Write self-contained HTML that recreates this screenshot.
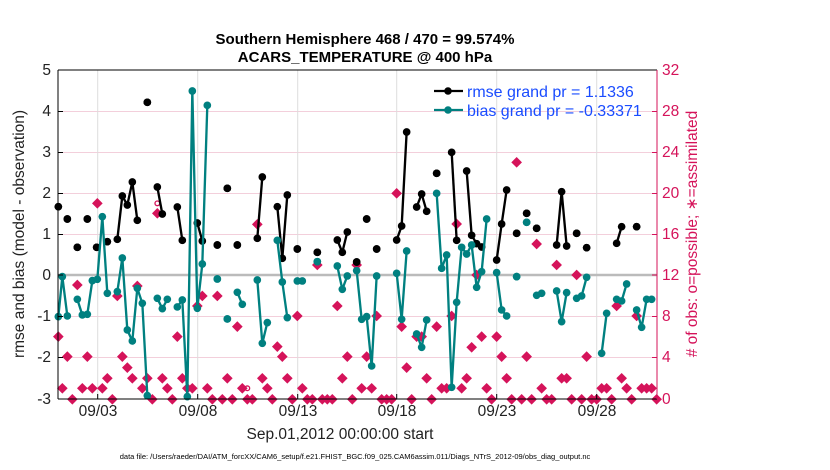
<!DOCTYPE html>
<html><head><meta charset="utf-8"><style>
html,body{margin:0;padding:0;background:#fff;}
svg{display:block;font-family:"Liberation Sans",sans-serif;}
</style></head><body>
<svg width="830" height="470" viewBox="0 0 830 470" xmlns="http://www.w3.org/2000/svg">
<defs>
<marker id="mk" markerUnits="userSpaceOnUse" markerWidth="30" markerHeight="30" refX="15" refY="15" viewBox="0 0 30 30"><circle cx="15" cy="15" r="11.5" fill="#000"/></marker>
<marker id="mt" markerUnits="userSpaceOnUse" markerWidth="30" markerHeight="30" refX="15" refY="15" viewBox="0 0 30 30"><circle cx="15" cy="15" r="11.5" fill="#008080"/></marker>
<marker id="mp" markerUnits="userSpaceOnUse" markerWidth="36" markerHeight="36" refX="18" refY="18" viewBox="0 0 36 36"><path d="M18,2 L34,18 L18,34 L2,18Z" fill="#d5135a"/></marker>
</defs>
<rect width="830" height="470" fill="#fff"/>
<text x="365" y="44" font-size="15" font-weight="bold" text-anchor="middle">Southern Hemisphere 468 / 470 = 99.574%</text>
<text x="365" y="62" font-size="15" font-weight="bold" text-anchor="middle">ACARS_TEMPERATURE @ 400 hPa</text>
<g stroke="#f3cfdb" stroke-width="1">
<line x1="58" y1="111.5" x2="657" y2="111.5"/><line x1="58" y1="152.5" x2="657" y2="152.5"/>
<line x1="58" y1="193.5" x2="657" y2="193.5"/><line x1="58" y1="234.5" x2="657" y2="234.5"/>
<line x1="58" y1="316.5" x2="657" y2="316.5"/><line x1="58" y1="357.5" x2="657" y2="357.5"/>
</g>
<g stroke="#ddd" stroke-width="1">
<line x1="97.7" y1="70" x2="97.7" y2="399"/><line x1="197.7" y1="70" x2="197.7" y2="399"/>
<line x1="297.7" y1="70" x2="297.7" y2="399"/><line x1="396.7" y1="70" x2="396.7" y2="399"/>
<line x1="496.7" y1="70" x2="496.7" y2="399"/><line x1="596.7" y1="70" x2="596.7" y2="399"/>
</g>
<line x1="58" y1="275" x2="657" y2="275" stroke="#bbb" stroke-width="2.5"/>
<g transform="translate(50,60) scale(0.3333)" fill="none">
<g stroke="none" marker-start="url(#mp)" marker-mid="url(#mp)" marker-end="url(#mp)">
<polyline points="25,830 37,985 67,1018 52,890 97,985 112,890 127,985 82,675 142,430 157,985 172,955 187,1018 202,708 217,890 232,923 247,955 262,678 277,985 292,955 307,1018 322,460 337,955 352,985 367,1018 382,830 397,955 412,985 427,985 442,738 457,708 472,985 487,1018 502,708 517,1018 532,955 547,1018 562,800 577,985 592,1018 607,1018 622,493 637,955 652,985 667,1018 682,860 697,890 712,955 727,1018 742,768 757,985 772,1018 787,1018 802,615 817,1018 832,1018 847,1018 862,738 877,955 892,890 907,1018"/>
</g>
<circle cx="322" cy="430" r="7" stroke="#d5135a" stroke-width="4"/>
<circle cx="592" cy="985" r="7" stroke="#d5135a" stroke-width="4"/>
<g stroke="#000" stroke-width="7" marker-start="url(#mk)" marker-mid="url(#mk)" marker-end="url(#mk)">
<polyline points="25,440 25,440"/><polyline points="52,477 52,477"/><polyline points="82,562 82,562"/><polyline points="112,477 112,477"/><polyline points="140,562 140,562"/><polyline points="172,545 172,545"/>
<polyline points="202,538 217,408 232,435 247,366 262,481"/>
<polyline points="292,127 292,127"/>
<polyline points="322,381 337,462"/><polyline points="382,441 397,541"/><polyline points="442,489 457,543"/>
<polyline points="502,555 502,555"/><polyline points="532,385 532,385"/><polyline points="562,555 562,555"/>
<polyline points="622,535 637,351"/><polyline points="682,440 697,595 712,405"/>
<polyline points="742,567 742,567"/><polyline points="802,577 802,577"/>
<polyline points="862,540 877,577 892,516"/>
</g>
<g stroke="#008080" stroke-width="7" marker-start="url(#mt)" marker-mid="url(#mt)" marker-end="url(#mt)">
<polyline points="25,770 37,650 52,768"/>
<polyline points="82,718 97,765 112,763 127,662 142,658 157,470 172,700"/>
<polyline points="202,695 217,594 232,810 247,843 262,685 277,730 292,1007"/>
<polyline points="322,715 337,746 352,718"/>
<polyline points="382,741 397,720 412,1010 427,93 442,745 457,612 472,136"/>
<polyline points="502,657 502,657"/><polyline points="532,777 532,777"/>
<polyline points="562,697 577,733"/>
<polyline points="622,660 637,850 652,788"/>
<polyline points="682,541 697,666 712,773"/>
<polyline points="742,663 757,663"/><polyline points="802,605 802,605"/>
<polyline points="862,618 877,688 892,648"/>
</g>
</g>
<g transform="translate(350,60) scale(0.3333)" fill="none">
<g stroke="none" marker-start="url(#mp)" marker-mid="url(#mp)" marker-end="url(#mp)">
<polyline points="20,615 35,985 50,890 65,985 80,768 95,1018 110,1018 125,1018 140,400 155,800 170,923 185,1018 200,830 215,830 230,955 245,1018 260,800 275,985 290,985 305,768 320,492 335,985 350,955 365,862 380,645 395,830 410,985 425,1018 440,830 455,890 470,955 485,1018 500,307 515,1018 530,890 545,1018 560,552 575,985 590,1018 605,1018 620,615 635,955 650,955 665,1018 680,645 695,1018 710,890 725,1018 740,1018 755,985 770,985 785,1018 800,738 815,955 830,985 845,1018 860,768 875,985 890,985 905,985 920,1018"/>
</g>
<g stroke="#000" stroke-width="7" marker-start="url(#mk)" marker-mid="url(#mk)" marker-end="url(#mk)">
<polyline points="20,606 20,606"/><polyline points="50,477 50,477"/><polyline points="80,567 80,567"/>
<polyline points="140,540 155,498 170,216"/>
<polyline points="200,441 215,402 230,454"/>
<polyline points="260,340 260,340"/>
<polyline points="305,277 320,541"/>
<polyline points="350,333 365,526 380,551 395,561"/>
<polyline points="440,600 455,492 470,390"/>
<polyline points="500,520 500,520"/><polyline points="530,460 530,460"/><polyline points="560,505 560,505"/>
<polyline points="620,555 635,395 650,558"/>
<polyline points="680,520 680,520"/><polyline points="710,563 710,563"/>
<polyline points="800,550 815,500"/><polyline points="860,500 860,500"/>
</g>
<g stroke="#008080" stroke-width="7" marker-start="url(#mt)" marker-mid="url(#mt)" marker-end="url(#mt)">
<polyline points="20,632 35,778 50,770 65,918 80,648"/>
<polyline points="140,640 155,778 170,573"/>
<polyline points="200,822 215,862 230,780"/>
<polyline points="260,400 275,625 290,585 305,982 320,727 335,562 350,582 365,555 380,682 395,635 410,477"/>
<polyline points="440,638 455,750 470,768"/>
<polyline points="500,650 500,650"/><polyline points="530,487 530,487"/>
<polyline points="560,706 575,700"/>
<polyline points="620,693 635,785 650,698"/>
<polyline points="680,715 695,708 710,652"/>
<polyline points="755,880 770,760"/>
<polyline points="800,718 815,723 830,672"/>
<polyline points="860,750 875,802 890,718 905,718"/>
</g>
</g>
<line x1="58" y1="70" x2="657" y2="70" stroke="#000" stroke-width="1"/>
<line x1="58" y1="399" x2="657" y2="399" stroke="#000" stroke-width="1"/>
<line x1="58" y1="70" x2="58" y2="399" stroke="#000" stroke-width="1"/>
<line x1="657" y1="70" x2="657" y2="399" stroke="#d5135a" stroke-width="1"/>
<g stroke="#000" stroke-width="1">
<line x1="58" y1="111.5" x2="63" y2="111.5"/><line x1="58" y1="152.5" x2="63" y2="152.5"/><line x1="58" y1="193.5" x2="63" y2="193.5"/><line x1="58" y1="234.5" x2="63" y2="234.5"/><line x1="58" y1="275" x2="63" y2="275"/><line x1="58" y1="316.5" x2="63" y2="316.5"/><line x1="58" y1="357.5" x2="63" y2="357.5"/>
<line x1="97.7" y1="399" x2="97.7" y2="394"/><line x1="197.7" y1="399" x2="197.7" y2="394"/><line x1="297.7" y1="399" x2="297.7" y2="394"/><line x1="396.7" y1="399" x2="396.7" y2="394"/><line x1="496.7" y1="399" x2="496.7" y2="394"/><line x1="596.7" y1="399" x2="596.7" y2="394"/>
</g>
<g stroke="#d5135a" stroke-width="1">
<line x1="652" y1="111.5" x2="657" y2="111.5"/><line x1="652" y1="152.5" x2="657" y2="152.5"/><line x1="652" y1="193.5" x2="657" y2="193.5"/><line x1="652" y1="234.5" x2="657" y2="234.5"/><line x1="652" y1="275" x2="657" y2="275"/><line x1="652" y1="316.5" x2="657" y2="316.5"/><line x1="652" y1="357.5" x2="657" y2="357.5"/>
</g>
<g font-size="15.5" text-anchor="end" fill="#222">
<text x="51" y="75">5</text><text x="51" y="116">4</text><text x="51" y="157">3</text><text x="51" y="198">2</text><text x="51" y="239">1</text><text x="51" y="280">0</text><text x="51" y="321">-1</text><text x="51" y="362">-2</text><text x="51" y="404">-3</text>
</g>
<g font-size="15.5" fill="#d5135a">
<text x="662" y="75">32</text><text x="662" y="116">28</text><text x="662" y="157">24</text><text x="662" y="198">20</text><text x="662" y="239">16</text><text x="662" y="280">12</text><text x="662" y="321">8</text><text x="662" y="362">4</text><text x="662" y="404">0</text>
</g>
<g font-size="15.5" text-anchor="middle" fill="#222">
<text x="98" y="416">09/03</text><text x="198" y="416">09/08</text><text x="298" y="416">09/13</text><text x="397" y="416">09/18</text><text x="497" y="416">09/23</text><text x="597" y="416">09/28</text>
</g>
<text x="340" y="439" font-size="15.5" text-anchor="middle" fill="#222">Sep.01,2012 00:00:00 start</text>
<text x="355" y="459" font-size="7.5" text-anchor="middle" fill="#000">data file: /Users/raeder/DAI/ATM_forcXX/CAM6_setup/f.e21.FHIST_BGC.f09_025.CAM6assim.011/Diags_NTrS_2012-09/obs_diag_output.nc</text>
<text transform="translate(24,234) rotate(-90)" font-size="15.5" text-anchor="middle" fill="#222">rmse and bias (model - observation)</text>
<text transform="translate(697,234) rotate(-90)" font-size="15.5" text-anchor="middle" fill="#d5135a"># of obs: o=possible; ∗=assimilated</text>
<line x1="434" y1="91" x2="463" y2="91" stroke="#000" stroke-width="2.3"/><circle cx="448" cy="91" r="3.8" fill="#000"/>
<line x1="434" y1="110" x2="463" y2="110" stroke="#008080" stroke-width="2.3"/><circle cx="448" cy="110" r="3.8" fill="#008080"/>
<text x="467" y="97" font-size="16" fill="#1a4cff">rmse grand pr = 1.1336</text>
<text x="467" y="116" font-size="16" fill="#1a4cff">bias grand pr = -0.33371</text>
</svg>
</body></html>
